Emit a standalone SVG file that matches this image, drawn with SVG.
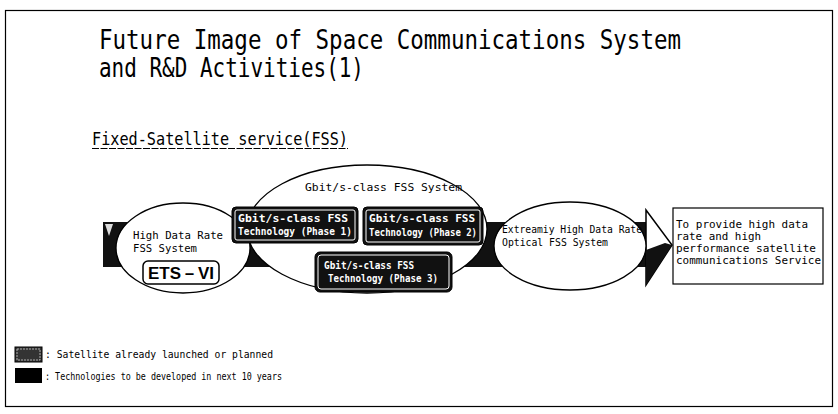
<svg xmlns="http://www.w3.org/2000/svg" width="838" height="414" viewBox="0 0 838 414">
<defs>
<style>
.t{font-family:"DejaVu Sans Mono","Liberation Mono",monospace;fill:#000}
.w{font-family:"DejaVu Sans Mono","Liberation Mono",monospace;fill:#fff;font-weight:bold}
.ell{fill:#fff;stroke:#000;stroke-width:1.3}
.dk{fill:#111;stroke:#000;stroke-width:1}
.in{fill:none;stroke:#fff;stroke-width:1}
</style>
</defs>
<rect x="0" y="0" width="838" height="414" fill="#fff"/>
<rect x="5.5" y="10.5" width="827" height="396" fill="none" stroke="#000" stroke-width="1.2"/>

<g id="title">
<text class="t" x="99" y="49" font-size="27" textLength="582" lengthAdjust="spacingAndGlyphs">Future Image of Space Communications System</text>
<text class="t" x="99" y="77" font-size="27" textLength="265" lengthAdjust="spacingAndGlyphs">and R&amp;D Activities(1)</text>
<text class="t" x="92" y="145" font-size="17" textLength="256" lengthAdjust="spacingAndGlyphs">Fixed-Satellite service(FSS)</text>
<line x1="92" y1="148.5" x2="348" y2="148.5" stroke="#000" stroke-width="1" stroke-dasharray="7 1.5"/>
</g>

<g id="connectors">
<rect x="103" y="222" width="545" height="45" fill="#111"/>
<path d="M105,224 L113,224 L109,236 Z" fill="#ddd"/>
<polygon points="646,210 672,245 646,285" fill="#fff" stroke="#000" stroke-width="1.5"/>
<polygon points="646,250 665,243 672,245 646,285" fill="#111"/>
</g>

<g id="node-high-data-rate">
<ellipse class="ell" cx="183" cy="248" rx="67" ry="45"/>
<text class="t" x="133" y="239" font-size="11" textLength="90" lengthAdjust="spacingAndGlyphs">High Data Rate</text>
<text class="t" x="133" y="252" font-size="11" textLength="64" lengthAdjust="spacingAndGlyphs">FSS System</text>
</g>

<g id="node-ets-vi">
<rect x="143" y="261" width="76" height="23" rx="5" fill="#fff" stroke="#000" stroke-width="1.5"/>
<text x="181" y="279" font-size="17" font-weight="bold" text-anchor="middle" font-family="Liberation Sans, Arial, sans-serif" textLength="66" lengthAdjust="spacingAndGlyphs">ETS－VI</text>
</g>

<g id="node-gbit-system">
<ellipse class="ell" cx="367" cy="229" rx="120" ry="64"/>
<text class="t" x="305" y="191" font-size="11" textLength="157" lengthAdjust="spacingAndGlyphs">Gbit/s-class FSS System</text>
</g>

<g id="node-optical">
<ellipse class="ell" cx="570" cy="246" rx="76" ry="44"/>
<text class="t" x="502" y="233" font-size="10" textLength="140" lengthAdjust="spacingAndGlyphs">Extreamiy High Data Rate</text>
<text class="t" x="502" y="246" font-size="10" textLength="106" lengthAdjust="spacingAndGlyphs">Optical FSS System</text>
</g>

<g id="node-phase1">
<rect class="dk" x="232" y="207" width="126" height="36" rx="4"/>
<rect class="in" x="235" y="210" width="120" height="30" rx="2"/>
<text class="w" x="238" y="222" font-size="10" textLength="110" lengthAdjust="spacingAndGlyphs">Gbit/s-class FSS</text>
<text class="w" x="238" y="235" font-size="11" textLength="114" lengthAdjust="spacingAndGlyphs">Technology (Phase 1)</text>
</g>

<g id="node-phase2">
<rect class="dk" x="363" y="207" width="120" height="38" rx="4"/>
<rect class="in" x="366" y="210" width="114" height="32" rx="2"/>
<text class="w" x="369" y="222" font-size="10" textLength="106" lengthAdjust="spacingAndGlyphs">Gbit/s-class FSS</text>
<text class="w" x="369" y="236" font-size="11" textLength="108" lengthAdjust="spacingAndGlyphs">Technology (Phase 2)</text>
</g>

<g id="node-phase3">
<rect class="dk" x="315" y="252" width="137" height="40" rx="5"/>
<rect class="in" x="318" y="255" width="131" height="34" rx="3"/>
<text class="w" x="324" y="269" font-size="10" textLength="90" lengthAdjust="spacingAndGlyphs">Gbit/s-class FSS</text>
<text class="w" x="328" y="282" font-size="10" textLength="110" lengthAdjust="spacingAndGlyphs">Technology (Phase 3)</text>
</g>

<g id="node-goal">
<rect x="673" y="208" width="150" height="76" fill="#fff" stroke="#000" stroke-width="1.2"/>
<text class="t" x="676" y="228" font-size="10.5" textLength="132" lengthAdjust="spacingAndGlyphs">To provide high data</text>
<text class="t" x="676" y="240" font-size="10.5" textLength="85" lengthAdjust="spacingAndGlyphs">rate and high</text>
<text class="t" x="676" y="252" font-size="10.5" textLength="140" lengthAdjust="spacingAndGlyphs">performance satellite</text>
<text class="t" x="676" y="264" font-size="10.5" textLength="145" lengthAdjust="spacingAndGlyphs">communications Service</text>
</g>

<g id="legend">
<rect x="15" y="347" width="27" height="15" fill="#333" stroke="#000"/>
<rect x="17" y="349" width="23" height="11" fill="none" stroke="#ccc" stroke-width="0.8" stroke-dasharray="2 1"/>
<text class="t" x="45" y="358" font-size="10" textLength="228" lengthAdjust="spacingAndGlyphs">: Satellite already launched or planned</text>
<rect x="15" y="368" width="27" height="15" fill="#000"/>
<text class="t" x="45" y="380" font-size="10" textLength="237" lengthAdjust="spacingAndGlyphs">: Technologies to be developed in next 10 years</text>
</g>
</svg>
